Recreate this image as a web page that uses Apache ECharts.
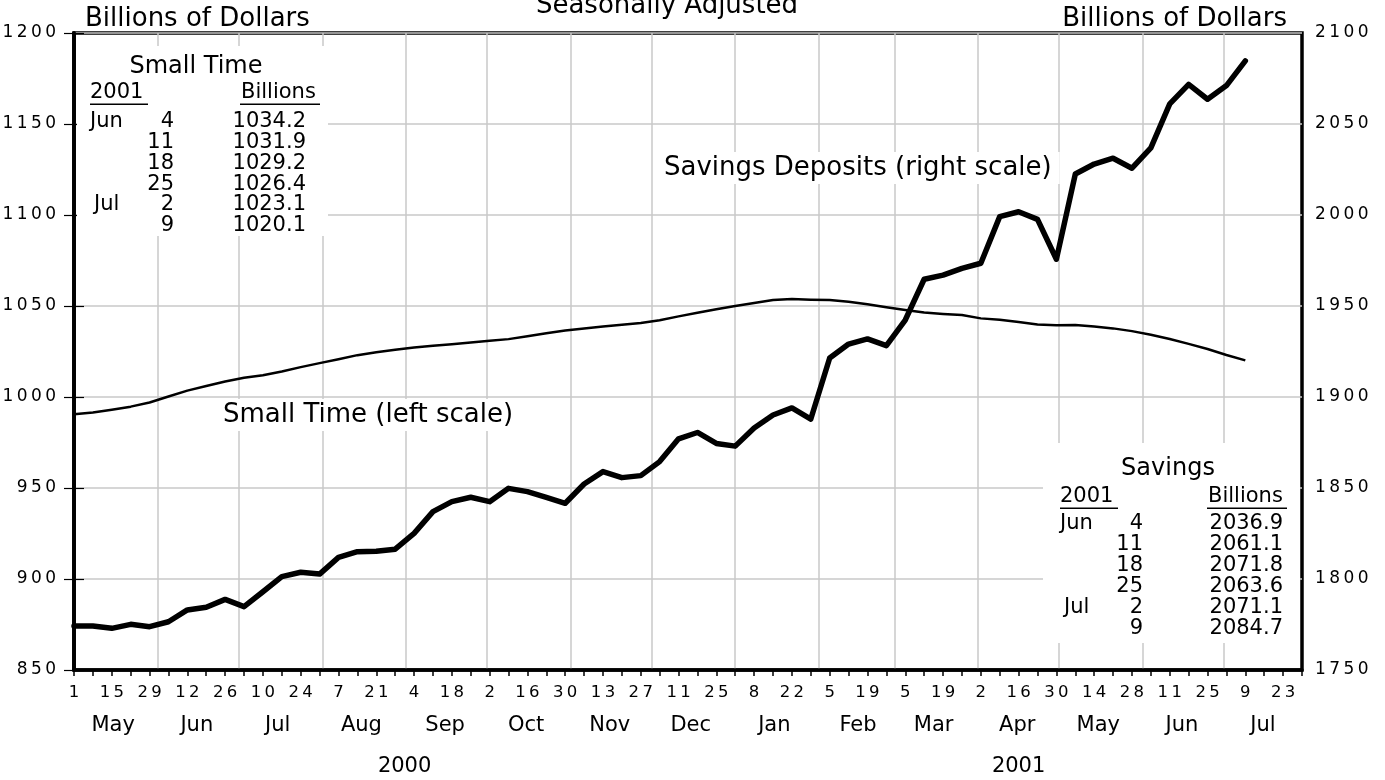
<!DOCTYPE html>
<html>
<head>
<meta charset="utf-8">
<script src="https://cdn.jsdelivr.net/npm/echarts@6/dist/echarts.min.js"></script>
<style>
html, body { margin: 0; padding: 0; background: #fff; }
#chart { width: 1385px; height: 780px; }
</style>
</head>
<body>
<div id="chart"></div>
<script>
// weekly series, first point = week of May 1, 2000, last = Jul 9, 2001
var startDay = Date.UTC(2000, 4, 1);
var endDay = Date.UTC(2001, 6, 30);

var smallTime = [
  990.5, 991.5, 993.0, 994.7, 997.0, 1000.3, 1003.5, 1006.0, 1008.5, 1010.6,
  1012.0, 1014.0, 1016.4, 1018.6, 1020.7, 1023.0, 1024.6, 1026.0, 1027.2, 1028.2,
  1029.0, 1030.0, 1030.9, 1031.8, 1033.4, 1035.0, 1036.5, 1037.7, 1038.7, 1039.7,
  1040.7, 1042.2, 1044.3, 1046.3, 1048.2, 1050.0, 1051.7, 1053.3, 1053.8, 1053.5,
  1053.3, 1052.3, 1050.9, 1049.3, 1047.8, 1046.4, 1045.6, 1045.0, 1043.2, 1042.4,
  1041.2, 1039.8, 1039.4, 1039.6, 1038.7, 1037.7, 1036.2, 1034.2, 1031.9, 1029.2,
  1026.4, 1023.1, 1020.1
];
var savings = [
  1774.2, 1774.2, 1772.9, 1775.1, 1773.8, 1776.5, 1783.0, 1784.5, 1788.8, 1784.8,
  1793.0, 1801.3, 1803.7, 1802.7, 1811.9, 1815.0, 1815.2, 1816.4, 1825.1, 1837.0,
  1842.5, 1844.9, 1842.5, 1849.8, 1848.0, 1844.9, 1841.6, 1852.2, 1859.0, 1855.7,
  1856.8, 1864.5, 1877.0, 1880.5, 1874.5, 1873.0, 1883.0, 1890.1, 1894.0, 1887.9,
  1921.4, 1929.1, 1931.9, 1928.2, 1942.3, 1964.7, 1967.0, 1970.7, 1973.5, 1999.1,
  2001.8, 1997.6, 1975.7, 2022.5, 2028.0, 2031.2, 2025.7, 2036.9, 2061.1, 2071.8,
  2063.6, 2071.1, 2084.7
];

// tick labels (every 2 weeks), months, years
var dayLabels = ['1','15','29','12','26','10','24','7','21','4','18','2','16','30','13','27',
  '11','25','8','22','5','19','5','19','2','16','30','14','28','11','25','9','23'];
var monthLabels = ['May','Jun','Jul','Aug','Sep','Oct','Nov','Dec','Jan','Feb','Mar','Apr','May','Jun','Jul'];
var yearLabels = ['2000', '2001'];

// inset tables (last six weeks)
var tableMonths = ['Jun', '', '', '', 'Jul', ''];
var tableDays = ['4', '11', '18', '25', '2', '9'];

function dayOf(y, m, d) { return (Date.UTC(y, m, d) - startDay) / 86400000; }
var maxDay = (endDay - startDay) / 86400000;

var monthStarts = [], monthMids = [];
for (var i = 0; i < monthLabels.length; i++) {
  var m = 4 + i;
  var y = 2000 + Math.floor(m / 12);
  var s = dayOf(y, m % 12, 1);
  if (s > 0) monthStarts.push(s);
  monthMids.push(s + 14.5);
}
var newYear = dayOf(2001, 0, 1);
var yearMids = [newYear / 2, (newYear + maxDay) / 2];

function spaced(v) { return String(v).split('').join('\u2009'); }
function nearest(arr, v) {
  var best = 0;
  for (var k = 1; k < arr.length; k++) if (Math.abs(arr[k] - v) < Math.abs(arr[best] - v)) best = k;
  return best;
}

var FONT = 'DejaVu Sans';
function txt(x, y, s, size, align, extra) {
  var st = { text: s, fontFamily: FONT, fontSize: size, fill: '#000',
    align: align || 'left', verticalAlign: 'middle', textAlign: align || 'left', textVerticalAlign: 'middle' };
  if (extra) for (var k in extra) st[k] = extra[k];
  return { type: 'text', x: x, y: y, z: 20, style: st };
}
function hline(x1, x2, y) {
  return { type: 'line', z: 20, shape: { x1: x1, y1: y, x2: x2, y2: y }, style: { stroke: '#000', lineWidth: 1.6 } };
}
function box(x, y, w, h) {
  return { type: 'rect', z: 15, shape: { x: x, y: y, width: w, height: h }, style: { fill: '#fff' } };
}

// one inset table from the last six values of a series
function table(p, title, values) {
  var els = [box(p.bx, p.by, p.bw, p.bh)];
  els.push(txt(p.titleX, p.titleY, title, 24, 'center'));
  els.push(txt(p.col1, p.hdrY, '2001', 21));
  els.push(hline(p.col1, p.col1 + 58, p.lineY));
  els.push(txt(p.billX, p.hdrY, 'Billions', 21));
  els.push(hline(p.billX - 1, p.billX + 79, p.lineY));
  var last = values.slice(values.length - 6);
  for (var r = 0; r < 6; r++) {
    var ry = p.rowY + r * p.rowStep;
    if (tableMonths[r]) els.push(txt(p.col1 + (tableMonths[r] === 'Jul' ? 4 : 0), ry, tableMonths[r], 21));
    els.push(txt(p.dayR, ry, tableDays[r], 21, 'right'));
    els.push(txt(p.valR, ry, last[r].toFixed(1), 21, 'right'));
  }
  return els;
}

var graphics = [
  txt(85, 19.5, 'Billions of Dollars', 26),
  txt(667, 6, 'Seasonally Adjusted', 26, 'center'),
  txt(1287, 19.5, 'Billions of Dollars', 26, 'right'),
  txt(215, 415, 'Small Time (left scale)', 26, 'left', { backgroundColor: '#fff', padding: [3, 8] }),
  txt(656, 168, 'Savings Deposits (right scale)', 26, 'left', { backgroundColor: '#fff', padding: [3, 8] })
].concat(
  table({ bx: 77, by: 46, bw: 251, bh: 190, titleX: 196, titleY: 67, col1: 90, hdrY: 92.5, lineY: 104.3,
          billX: 241, rowY: 122, rowStep: 20.7, dayR: 174, valR: 306 }, 'Small Time', smallTime),
  table({ bx: 1043, by: 443, bw: 257, bh: 200, titleX: 1168, titleY: 469, col1: 1060, hdrY: 497, lineY: 508.3,
          billX: 1208, rowY: 523.7, rowStep: 20.9, dayR: 1143, valR: 1283 }, 'Savings', savings)
);

var myChart = echarts.init(document.getElementById('chart'));

var gridColor = '#c9c9c9';
var option = {
  animation: false,
  backgroundColor: '#fff',
  grid: { left: 74, right: 83, top: 33, bottom: 110, show: true, borderColor: '#000', borderWidth: 3.5,
          backgroundColor: 'transparent', containLabel: false, outerBoundsMode: 'none' },
  xAxis: [
    { // weeks, labels every other week
      type: 'value', min: 0, max: maxDay, interval: 7, position: 'bottom',
      axisLine: { show: true, onZero: false, lineStyle: { color: '#000', width: 3.5 } },
      axisTick: { show: true, length: 6, lineStyle: { color: '#000', width: 1.5 } },
      axisLabel: { margin: 14, color: '#000', fontFamily: FONT, fontSize: 16.5, showMinLabel: true, showMaxLabel: true,
        formatter: function (v) {
          var k = Math.round(v / 7);
          return k % 2 ? '' : spaced(dayLabels[k / 2] || '');
        } },
      splitLine: { show: false }
    },
    { // months: grid lines at month starts, names mid-month
      type: 'value', min: 0, max: maxDay, position: 'bottom',
      axisLine: { show: false },
      axisTick: { show: false, customValues: monthStarts },
      axisLabel: { customValues: monthMids, margin: 45, color: '#000', fontFamily: FONT, fontSize: 21,
        formatter: function (v) { return monthLabels[nearest(monthMids, v)]; } },
      splitLine: { show: true, lineStyle: { color: gridColor, width: 1.5 } }
    },
    { // years
      type: 'value', min: 0, max: maxDay, position: 'bottom',
      axisLine: { show: false },
      axisTick: { show: false },
      axisLabel: { customValues: yearMids, margin: 86, color: '#000', fontFamily: FONT, fontSize: 21,
        formatter: function (v) { return yearLabels[nearest(yearMids, v)]; } },
      splitLine: { show: false }
    }
  ],
  yAxis: [
    {
      type: 'value', min: 850, max: 1200, interval: 50, position: 'left',
      axisLine: { show: true, lineStyle: { color: '#000', width: 3.5 } },
      axisTick: { show: true, length: 10, lineStyle: { color: '#000', width: 1.2 } },
      axisLabel: { margin: 18, color: '#000', fontFamily: FONT, fontSize: 17, formatter: spaced },
      splitLine: { show: true, lineStyle: { color: gridColor, width: 1.5 } }
    },
    {
      type: 'value', min: 1750, max: 2100, interval: 50, position: 'right',
      axisLine: { show: true, lineStyle: { color: '#000', width: 3.5 } },
      axisTick: { show: true, length: 10, lineStyle: { color: '#000', width: 1.2 } },
      axisLabel: { margin: 13, color: '#000', fontFamily: FONT, fontSize: 17, formatter: spaced },
      splitLine: { show: false }
    }
  ],
  series: [
    {
      name: 'Small Time', type: 'line', xAxisIndex: 0, yAxisIndex: 0, symbol: 'none', z: 3,
      data: smallTime.map(function (v, i) { return [i * 7, v]; }),
      lineStyle: { color: '#000', width: 2.5, join: 'round' }
    },
    {
      name: 'Savings Deposits', type: 'line', xAxisIndex: 0, yAxisIndex: 1, symbol: 'none', z: 4,
      data: savings.map(function (v, i) { return [i * 7, v]; }),
      lineStyle: { color: '#000', width: 5.5, join: 'round', cap: 'round' }
    }
  ],
  graphic: graphics
};

myChart.setOption(option);
</script>
</body>
</html>
